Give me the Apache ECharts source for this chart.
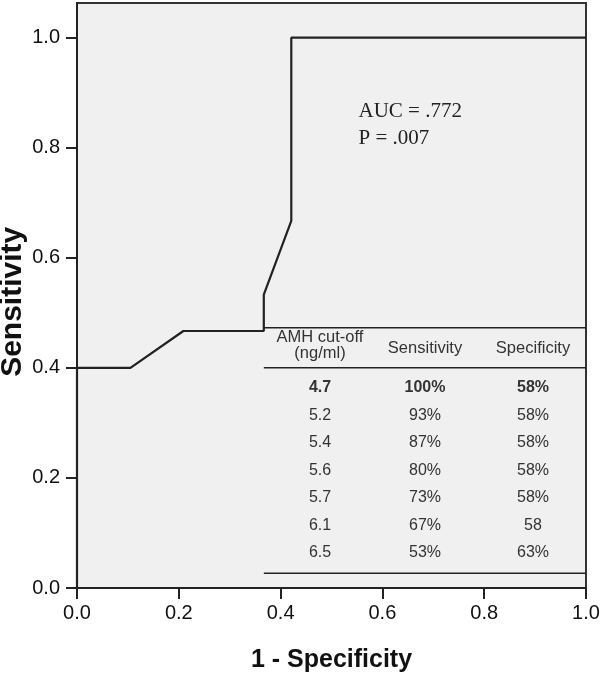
<!DOCTYPE html>
<html>
<head>
<meta charset="utf-8">
<script src="https://cdn.jsdelivr.net/npm/echarts@6/dist/echarts.min.js"></script>
<style>
html,body{margin:0;padding:0;background:#fff;}
#chart{width:600px;height:678px;}
</style>
</head>
<body>
<div id="chart"></div>
<script>
// ROC curve points: [1 - Specificity, Sensitivity]
const rocX = [0, 0, 0.105, 0.209, 0.367, 0.367, 0.421, 0.421, 1.0];
const rocY = [0, 0.4, 0.4, 0.467, 0.467, 0.533, 0.667, 1.0, 1.0];
const tickValues = [0, 0.2, 0.4, 0.6, 0.8, 1.0];
const xTitle = '1 - Specificity';
const yTitle = 'Sensitivity';
const statsLines = ['AUC = .772', 'P = .007'];
const tableHeaders = [['AMH cut-off', '(ng/ml)'], ['Sensitivity'], ['Specificity']];
const cutoffs = ['4.7', '5.2', '5.4', '5.6', '5.7', '6.1', '6.5'];
const sensitivities = ['100%', '93%', '87%', '80%', '73%', '67%', '53%'];
const specificities = ['58%', '58%', '58%', '58%', '58%', '58', '63%'];

const chart = echarts.init(document.getElementById('chart'));
const FONT = '"Liberation Sans", Arial, sans-serif';
const SERIF = '"Liberation Serif", "Times New Roman", serif';

const option = {
  animation: false,
  backgroundColor: '#ffffff',
  grid: {
    left: 77, right: 14, top: 3, bottom: 90,
    outerBoundsMode: 'none', containLabel: false,
    show: true, backgroundColor: '#f0f0f0', borderColor: '#333', borderWidth: 2
  },
  xAxis: {
    type: 'value', min: 0, max: 1, interval: 0.2,
    name: xTitle, nameLocation: 'middle', nameGap: 60,
    nameTextStyle: { fontFamily: FONT, fontSize: 25, fontWeight: 'bold', color: '#111' },
    axisLine: { show: true, lineStyle: { color: '#222', width: 2 } },
    axisTick: { show: true, length: 11, lineStyle: { color: '#222', width: 2 } },
    axisLabel: { fontFamily: FONT, fontSize: 20, color: '#111', margin: 15,
      formatter: v => v.toFixed(1) },
    splitLine: { show: false }
  },
  yAxis: {
    type: 'value', min: 0, max: 1.063,
    axisLine: { show: true, lineStyle: { color: '#222', width: 2 } },
    axisTick: { show: true, length: 11, customValues: tickValues, lineStyle: { color: '#222', width: 2 } },
    axisLabel: { fontFamily: FONT, fontSize: 20, color: '#111', margin: 17,
      customValues: tickValues, formatter: v => v.toFixed(1) },
    splitLine: { show: false }
  },
  series: [{
    type: 'line',
    data: rocX.map((x, i) => [x, rocY[i]]),
    symbol: 'none',
    lineStyle: { color: '#222', width: 2.2 },
    z: 5
  }]
};
chart.setOption(option);

function buildGraphics() {
  const p = (x, y) => chart.convertToPixel({ gridIndex: 0 }, [x, y]);
  const g = [];
  // y-axis title
  const mid = p(0, 0.52);
  g.push({ type: 'text', x: 13, y: mid[1], rotation: Math.PI / 2,
    style: { text: yTitle, font: 'bold 30px ' + FONT, fill: '#111', textAlign: 'center', textVerticalAlign: 'middle' } });
  // stats text
  const statPos = p(0.553, 0.865);
  statsLines.forEach((t, i) => {
    g.push({ type: 'text', x: statPos[0], y: statPos[1] + i * 27,
      style: { text: t, font: '21px ' + SERIF, fill: '#222', textVerticalAlign: 'middle' } });
  });
  // table
  const left = p(0.367, 0)[0], right = p(1, 0)[0];
  const topY = 327.7, headY = 367.7, botY = 573.3;
  [topY, headY, botY].forEach(y => {
    g.push({ type: 'line', shape: { x1: left, y1: y, x2: right, y2: y },
      style: { stroke: '#222', lineWidth: 1.6 }, z: 6 });
  });
  const colX = [320, 425, 533];
  tableHeaders.forEach((h, c) => {
    h.forEach((t, k) => {
      const y = h.length === 2 ? 337 + k * 16 : 348;
      g.push({ type: 'text', x: colX[c], y: y,
        style: { text: t, font: '16.5px ' + FONT, fill: '#333', textAlign: 'center', textVerticalAlign: 'middle' } });
    });
  });
  const cols = [cutoffs, sensitivities, specificities];
  cutoffs.forEach((_, r) => {
    cols.forEach((arr, c) => {
      g.push({ type: 'text', x: colX[c], y: 388 + r * 27.5,
        style: { text: arr[r], font: (r === 0 ? 'bold ' : '') + '16px ' + FONT,
          fill: '#333', textAlign: 'center', textVerticalAlign: 'middle' } });
    });
  });
  chart.setOption({ graphic: { elements: g } });
}
buildGraphics();
</script>
</body>
</html>
